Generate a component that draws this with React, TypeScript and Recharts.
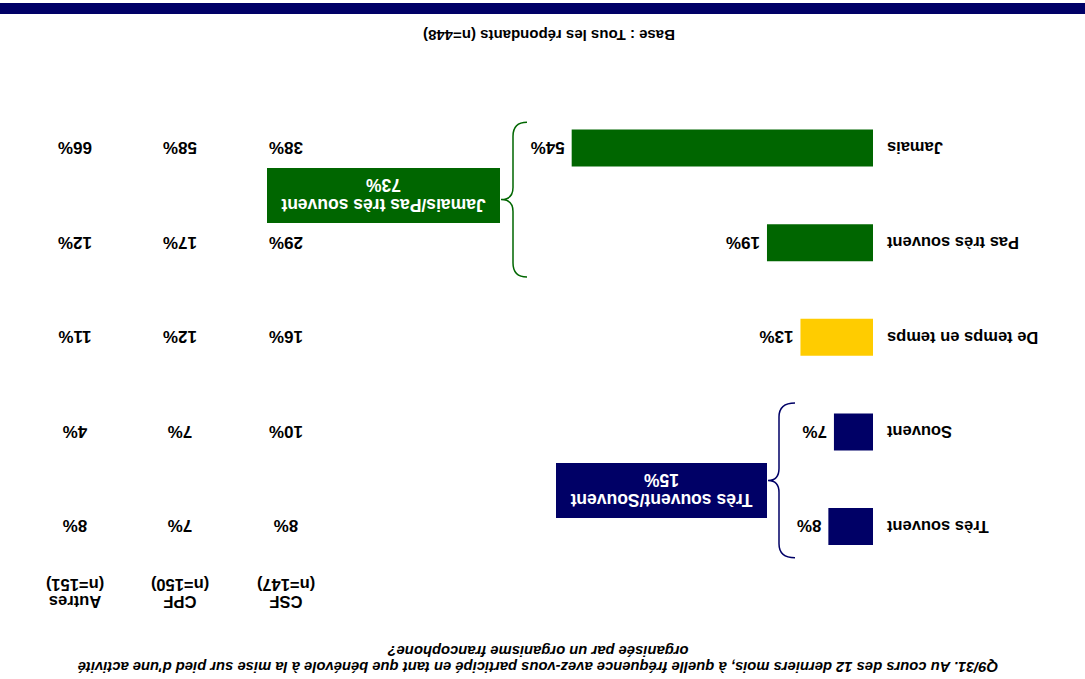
import { BarChart, Bar, XAxis, YAxis, Cell, LabelList } from "recharts";

const categories = ["Très souvent", "Souvent", "De temps en temps", "Pas très souvent", "Jamais"];
const totals = [8, 7, 13, 19, 54];
const csf = [8, 10, 16, 29, 38];
const cpf = [7, 7, 12, 17, 58];
const autres = [8, 4, 11, 12, 66];

const columnNames = ["CSF", "CPF", "Autres"];
const columnN = [147, 150, 151];

const groupLabels = ["Très souvent/Souvent", "Jamais/Pas très souvent"];
const groupValues = [15, 73];

const questionLines = [
  "Q9/31. Au cours des 12 derniers mois, à quelle fréquence avez-vous participé en tant que bénévole à la mise sur pied d'une activité",
  "organisée par un organisme francophone?",
];
const baseText = "Base : Tous les répondants (n=448)";

const NAVY = "#000066";
const GREEN = "#006600";
const YELLOW = "#FFCC00";
const barColors = [NAVY, NAVY, YELLOW, GREEN, GREEN];

const W = 1085;
const H = 679;
const TOP = 105;
const BOTTOM = 101;
const BAND = (H - TOP - BOTTOM) / categories.length;
const FONT = "'Liberation Sans', Arial, sans-serif";
const colX = [799, 905, 1010];

const data = categories.map((name, i) => ({
  name,
  total: totals[i],
  csf: csf[i],
  cpf: cpf[i],
  autres: autres[i],
}));

const rowY = (i: number) => TOP + BAND * (i + 0.5);

function columnLabel(cx: number) {
  return (props: any) => {
    const { y, height, value } = props;
    return (
      <text
        x={cx}
        y={y + height / 2}
        dy="0.355em"
        textAnchor="middle"
        fontFamily={FONT}
        fontWeight="bold"
        fontSize={17}
        fill="#000"
      >
        {value}%
      </text>
    );
  };
}

// brace "}" with tip to the right
function Brace({ top, bottom, xEnd, xLine, xTip, color }: any) {
  const mid = (top + bottom) / 2;
  const d = `M${xEnd},${top} Q${xLine},${top} ${xLine},${top + 14} L${xLine},${mid - 12} Q${xLine},${mid} ${xTip},${mid} Q${xLine},${mid} ${xLine},${mid + 12} L${xLine},${bottom - 14} Q${xLine},${bottom} ${xEnd},${bottom}`;
  return <path d={d} fill="none" stroke={color} strokeWidth={1.5} />;
}

function GroupBox({ x, y, w, label, value, color }: any) {
  return (
    <g>
      <rect x={x} y={y} width={w} height={55} fill={color} />
      <text x={x + w / 2} y={y + 18} dy="0.355em" textAnchor="middle" fontFamily={FONT} fontWeight="bold" fontSize={17.5} fill="#fff">
        {label}
      </text>
      <text x={x + w / 2} y={y + 38} dy="0.355em" textAnchor="middle" fontFamily={FONT} fontWeight="bold" fontSize={17.5} fill="#fff">
        {value}%
      </text>
    </g>
  );
}

export default function App() {
  return (
    <div
      style={{
        position: "absolute",
        left: 0,
        top: 0,
        width: W,
        height: H,
        background: "#fff",
        transform: "rotate(180deg)",
      }}
    >
      <BarChart
        width={W}
        height={H}
        data={data}
        layout="vertical"
        margin={{ top: TOP, bottom: BOTTOM, left: 0, right: 315 }}
      >
        <XAxis type="number" domain={[0, 100]} hide />
        <YAxis
          type="category"
          dataKey="name"
          width={212}
          axisLine={false}
          tickLine={false}
          tickMargin={8}
          tick={{ fill: "#000", fontFamily: FONT, fontWeight: "bold", fontSize: 16.5 }}
        />
        <Bar dataKey="total" barSize={37} isAnimationActive={false}>
          {data.map((d, i) => (
            <Cell key={d.name} fill={barColors[i]} />
          ))}
          <LabelList
            dataKey="total"
            position="right"
            offset={7}
            formatter={(v: any) => `${v}%`}
            style={{ fill: "#000", fontFamily: FONT, fontWeight: "bold", fontSize: 17 }}
          />
          <LabelList dataKey="csf" content={columnLabel(colX[0])} />
          <LabelList dataKey="cpf" content={columnLabel(colX[1])} />
          <LabelList dataKey="autres" content={columnLabel(colX[2])} />
        </Bar>
      </BarChart>

      <svg width={W} height={H} style={{ position: "absolute", left: 0, top: 0, pointerEvents: "none" }}>
        {questionLines.map((line, i) => (
          <text
            key={i}
            x={547}
            y={17 + i * 16}
            textAnchor="middle"
            fontFamily={FONT}
            fontWeight="bold"
            fontStyle="italic"
            fontSize={14.8}
            fill="#000"
          >
            {line}
          </text>
        ))}

        {columnNames.map((c, i) => (
          <g key={c}>
            <text x={colX[i]} y={83} textAnchor="middle" fontFamily={FONT} fontWeight="bold" fontSize={16.5} fill="#000">
              {c}
            </text>
            <text x={colX[i]} y={100} textAnchor="middle" fontFamily={FONT} fontWeight="bold" fontSize={16.5} fill="#000">
              (n={columnN[i]})
            </text>
          </g>
        ))}

        <Brace top={rowY(0) - 31} bottom={rowY(1) + 29} xEnd={290} xLine={306} xTip={317} color={NAVY} />
        <GroupBox x={318} y={161} w={211} label={groupLabels[0]} value={groupValues[0]} color={NAVY} />

        <Brace top={rowY(3) - 34} bottom={rowY(4) + 26} xEnd={558} xLine={572} xTip={584} color={GREEN} />
        <GroupBox x={585} y={456} w={233} label={groupLabels[1]} value={groupValues[1]} color={GREEN} />

        <text x={536} y={649} textAnchor="middle" fontFamily={FONT} fontWeight="bold" fontSize={15} fill="#000">
          {baseText}
        </text>
        <rect x={0} y={665} width={W} height={11} fill={NAVY} />
      </svg>
    </div>
  );
}
